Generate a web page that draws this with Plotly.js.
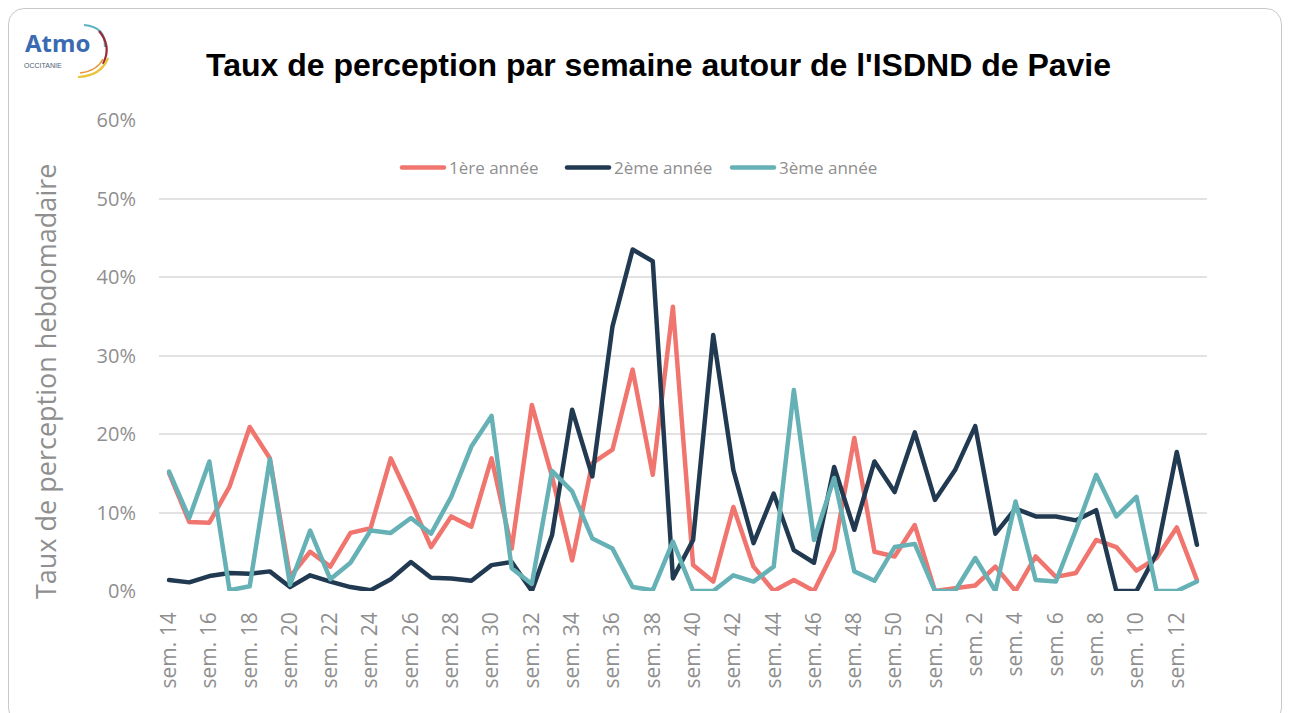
<!DOCTYPE html>
<html>
<head>
<meta charset="utf-8">
<script src="https://cdn.plot.ly/plotly-3.0.1.min.js"></script>
<style>
  html, body { margin: 0; padding: 0; background: #ffffff; }
  #wrap { position: relative; width: 1289px; height: 713px; overflow: hidden; }
  #chart { position: absolute; left: 0; top: 0; width: 1289px; height: 713px; }
  #frame { position: absolute; left: 8px; top: 8px; width: 1274px; height: 716px;
           border: 1.5px solid #c9c9c9; border-radius: 16px; pointer-events: none; box-sizing: border-box; }
  .scatterlayer path.js-line, .legendlines path { stroke-linejoin: round; stroke-linecap: round; }
</style>
</head>
<body>
<div id="wrap">
  <div id="chart"></div>
  <div id="frame"></div>
</div>
<script>
// Week labels (categories)
const semaines = [
  "sem. 14","sem. 15","sem. 16","sem. 17","sem. 18","sem. 19","sem. 20","sem. 21","sem. 22","sem. 23",
  "sem. 24","sem. 25","sem. 26","sem. 27","sem. 28","sem. 29","sem. 30","sem. 31","sem. 32","sem. 33",
  "sem. 34","sem. 35","sem. 36","sem. 37","sem. 38","sem. 39","sem. 40","sem. 41","sem. 42","sem. 43",
  "sem. 44","sem. 45","sem. 46","sem. 47","sem. 48","sem. 49","sem. 50","sem. 51","sem. 52","sem. 1",
  "sem. 2","sem. 3","sem. 4","sem. 5","sem. 6","sem. 7","sem. 8","sem. 9","sem. 10","sem. 11",
  "sem. 12","sem. 13"
];

// Weekly perception rate (%)
const annee1 = [
  15.0, 8.8, 8.7, 13.3, 20.9, 16.9, 1.8, 5.0, 3.1, 7.4,
  8.0, 16.9, 11.4, 5.6, 9.5, 8.2, 16.9, 5.4, 23.7, 14.6,
  3.9, 16.3, 18.0, 28.2, 14.8, 36.2, 3.3, 1.2, 10.7, 3.1,
  0.0, 1.4, 0.0, 5.2, 19.5, 5.0, 4.4, 8.4, 0.0, 0.3,
  0.7, 3.1, 0.0, 4.4, 1.8, 2.3, 6.5, 5.6, 2.6, 4.2,
  8.1, 1.4
];
const annee2 = [
  1.4, 1.1, 1.9, 2.3, 2.2, 2.5, 0.5, 2.0, 1.2, 0.5,
  0.1, 1.5, 3.7, 1.7, 1.6, 1.3, 3.3, 3.7, 0.0, 7.1,
  23.1, 14.6, 33.7, 43.5, 42.0, 1.6, 6.5, 32.6, 15.4, 6.1,
  12.4, 5.2, 3.6, 15.8, 7.8, 16.5, 12.6, 20.2, 11.6, 15.4,
  21.0, 7.3, 10.5, 9.5, 9.5, 9.0, 10.3, 0.0, 0.0, 4.8,
  17.7, 5.9
];
const annee3 = [
  15.2, 9.3, 16.5, 0.1, 0.6, 16.8, 0.8, 7.7, 1.5, 3.6,
  7.7, 7.4, 9.3, 7.3, 12.0, 18.4, 22.3, 2.9, 0.9, 15.3,
  12.7, 6.7, 5.4, 0.5, 0.1, 6.3, 0.0, 0.0, 2.0, 1.2,
  3.1, 25.6, 6.5, 14.4, 2.5, 1.3, 5.6, 6.0, 0.0, 0.0,
  4.2, 0.0, 11.4, 1.4, 1.2, 7.8, 14.8, 9.5, 12.0, 0.0,
  0.0, 1.2
];
const seriesNames = ["1ère année", "2ème année", "3ème année"];
const seriesColors = ["#F0756F", "#213A51", "#66B1B5"];

const W = 1289, H = 713;
const M = { l: 159, r: 82, t: 120, b: 122 };
const PW = W - M.l - M.r, PH = H - M.t - M.b;
const px = x => (x - M.l) / PW;
const py = y => (H - M.b - y) / PH;

const traces = [annee1, annee2, annee3].map((vals, k) => ({
  type: "scatter",
  mode: "lines",
  x: semaines,
  y: vals,
  name: seriesNames[k],
  line: { color: seriesColors[k], width: 4.5 },
  hoverinfo: "x+y+name"
}));

const greyTxt = "#8f8f8f";
const font = "'Open Sans', 'Noto Sans', sans-serif";

// Logo (decorative arcs)
function pth(points) {
  let s = "M " + px(points[0][0]) + "," + py(points[0][1]);
  for (let i = 1; i < points.length; i++) {
    const p = points[i];
    s += " Q " + px(p[0]) + "," + py(p[1]) + " " + px(p[2]) + "," + py(p[3]);
  }
  return s;
}
const shapes = [
  { type: "path", xref: "paper", yref: "paper", path: pth([[84, 25], [106, 27, 105, 47]]),
    line: { color: "#5bb3c4", width: 2.2 } },
  { type: "path", xref: "paper", yref: "paper", path: pth([[99, 31], [112, 46, 103, 64]]),
    line: { color: "#9c2a3a", width: 2.2 } },
  { type: "path", xref: "paper", yref: "paper", path: pth([[78, 77], [101, 76, 108, 58]]),
    line: { color: "#e8c53a", width: 2.2 } },
  { type: "path", xref: "paper", yref: "paper", path: pth([[80, 73], [97, 71, 103, 59]]),
    line: { color: "#e59a3a", width: 1.6 } }
];

const annotations = [
  { text: "<b>Atmo</b>", xref: "paper", yref: "paper", x: px(57), y: py(42), xanchor: "center", yanchor: "middle",
    showarrow: false, font: { family: "'Noto Sans', sans-serif", size: 24, color: "#3a6bb2" } },
  { text: "OCCITANIE", xref: "paper", yref: "paper", x: px(43), y: py(65), xanchor: "center", yanchor: "middle",
    showarrow: false, font: { family: "'Liberation Sans', sans-serif", size: 7, color: "#4b5a78" } },
  { text: "Taux de perception hebdomadaire", xref: "paper", yref: "paper", x: px(45), y: py(382),
    xanchor: "center", yanchor: "middle", textangle: -90, showarrow: false,
    font: { family: font, size: 27, color: greyTxt } }
];

const layout = {
  width: W, height: H,
  margin: M,
  paper_bgcolor: "#ffffff",
  plot_bgcolor: "#ffffff",
  title: {
    text: "<b>Taux de perception par semaine autour de l'ISDND de Pavie</b>",
    font: { family: "'Liberation Sans', Arial, sans-serif", size: 32, color: "#000000" },
    x: 658.5 / W, xanchor: "center",
    y: 1 - 65 / H, yanchor: "middle"
  },
  showlegend: true,
  legend: {
    orientation: "h",
    x: px(397), xanchor: "left",
    y: py(168), yanchor: "middle",
    itemwidth: 42,
    entrywidth: 108,
    entrywidthmode: "pixels",
    font: { family: font, size: 17, color: greyTxt },
    bgcolor: "rgba(0,0,0,0)",
    traceorder: "normal"
  },
  xaxis: {
    type: "category",
    categoryorder: "array",
    categoryarray: semaines,
    range: [-0.5, semaines.length - 0.5],
    dtick: 2,
    tickangle: -90,
    ticks: "",
    showgrid: false,
    showline: false,
    zeroline: false,
    ticklabelstandoff: 16,
    tickfont: { family: font, size: 21, color: greyTxt },
    automargin: false
  },
  yaxis: {
    range: [0, 60],
    dtick: 10,
    ticksuffix: "%",
    showgrid: true,
    gridcolor: "#e2e2e2",
    gridwidth: 1.5,
    zeroline: false,
    showline: false,
    ticks: "",
    ticklabelstandoff: 22,
    tickfont: { family: font, size: 20, color: greyTxt },
    automargin: false
  },
  shapes: shapes,
  annotations: annotations
};

Plotly.newPlot("chart", traces, layout, { displayModeBar: false });
</script>
</body>
</html>
